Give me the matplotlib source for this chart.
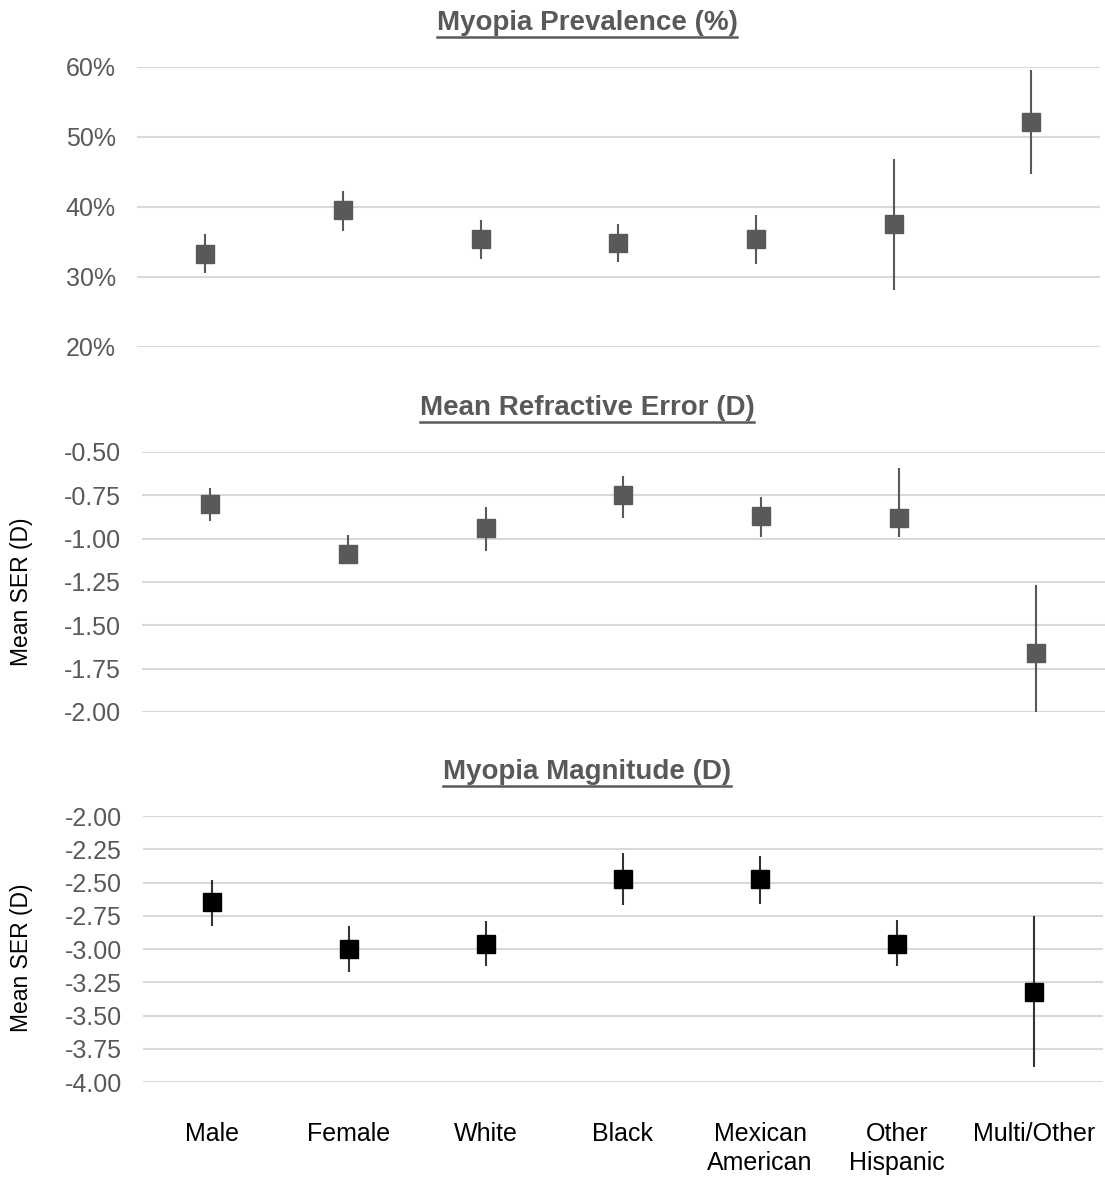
import matplotlib
matplotlib.use("Agg")
import matplotlib.pyplot as plt
from matplotlib.lines import Line2D
from matplotlib.ticker import FuncFormatter

plt.rcParams['font.family'] = ['Liberation Sans', 'DejaVu Sans']

# Groups along the x axis
groups = ["Male", "Female", "White", "Black", "Mexican\nAmerican", "Other\nHispanic", "Multi/Other"]

# Myopia prevalence (%) with 95% CI
prev_est = [33.3, 39.5, 35.4, 34.9, 35.4, 37.5, 52.1]
prev_lo = [30.6, 36.5, 32.6, 32.1, 31.9, 28.1, 44.7]
prev_hi = [36.1, 42.3, 38.2, 37.6, 38.9, 46.9, 59.5]

# Mean spherical equivalent refraction (D), all participants
ser_est = [-0.80, -1.09, -0.94, -0.75, -0.87, -0.88, -1.66]
ser_lo = [-0.90, -1.13, -1.07, -0.88, -0.99, -0.99, -2.01]
ser_hi = [-0.71, -0.98, -0.82, -0.64, -0.76, -0.59, -1.27]

# Mean SER (D) among myopes
mag_est = [-2.65, -3.00, -2.96, -2.47, -2.47, -2.96, -3.32]
mag_lo = [-2.83, -3.17, -3.13, -2.67, -2.66, -3.13, -3.89]
mag_hi = [-2.48, -2.83, -2.79, -2.28, -2.30, -2.78, -2.75]

GRAY = "#595959"
GRID = "#d9d9d9"

fig = plt.figure(figsize=(11.05, 11.77), dpi=100)

ax1 = fig.add_axes([0.1237, 0.7052, 0.8718, 0.2379])
ax2 = fig.add_axes([0.1282, 0.3951, 0.8718, 0.2209])
ax3 = fig.add_axes([0.1294, 0.0807, 0.8688, 0.2260])

panels = [
    (ax1, prev_est, prev_lo, prev_hi, (20, 60), [20, 30, 40, 50, 60], GRAY, GRAY),
    (ax2, ser_est, ser_lo, ser_hi, (-2.0, -0.5), [-2.0, -1.75, -1.5, -1.25, -1.0, -0.75, -0.5], GRAY, GRAY),
    (ax3, mag_est, mag_lo, mag_hi, (-4.0, -2.0),
     [-4.0, -3.75, -3.5, -3.25, -3.0, -2.75, -2.5, -2.25, -2.0], "black", "#333333"),
]

x = list(range(len(groups)))
for ax, est, lo, hi, ylim, ticks, mcolor, ecolor in panels:
    yerr = [[e - l for e, l in zip(est, lo)], [h - e for e, h in zip(est, hi)]]
    ax.errorbar(x, est, yerr=yerr, fmt="s", ms=13, color=mcolor, ecolor=ecolor,
                elinewidth=1.5, capsize=0, zorder=3)
    ax.set_xlim(-0.5, len(groups) - 0.5)
    ax.set_ylim(*ylim)
    ax.set_yticks(ticks)
    ax.yaxis.grid(True, color=GRID, linewidth=1.5, zorder=0)
    ax.set_axisbelow(True)
    for s in ax.spines.values():
        s.set_visible(False)
    ax.tick_params(axis="both", length=0, labelsize=18, labelcolor=GRAY, pad=15)
    ax.set_xticks(x)
    ax.set_xticklabels([])

ax1.yaxis.set_major_formatter(FuncFormatter(lambda v, p: f"{v:.0f}%"))
ax2.yaxis.set_major_formatter(FuncFormatter(lambda v, p: f"{v:.2f}"))
ax3.yaxis.set_major_formatter(FuncFormatter(lambda v, p: f"{v:.2f}"))

ax3.set_xticklabels(groups, fontsize=18, color="black", linespacing=1.27)
ax3.tick_params(axis="x", pad=29, labelcolor="black")

for ax, yc in [(ax2, 592), (ax3, 958)]:
    fig.text(22 / 1105, 1 - yc / 1177, "Mean SER (D)", rotation=90, fontsize=16.5,
             ha="center", va="center", color="black")

titles = [("Myopia Prevalence (%)", 23), ("Mean Refractive Error (D)", 408),
          ("Myopia Magnitude (D)", 772)]
title_objs = []
for label, yc in titles:
    t = fig.text(587 / 1105, 1 - yc / 1177, label, fontsize=20, fontweight="bold",
                 color=GRAY, ha="center", va="center")
    title_objs.append(t)

# underline each panel heading
fig.canvas.draw()
renderer = fig.canvas.get_renderer()
inv = fig.transFigure.inverted()
for t in title_objs:
    bb = t.get_window_extent(renderer=renderer)
    (x0, y0), (x1, _) = inv.transform([(bb.x0, bb.y0 - 1), (bb.x1, bb.y1)])
    fig.add_artist(Line2D([x0, x1], [y0, y0], transform=fig.transFigure,
                         color=GRAY, linewidth=1.8))

fig.savefig("out.png", dpi=100)
